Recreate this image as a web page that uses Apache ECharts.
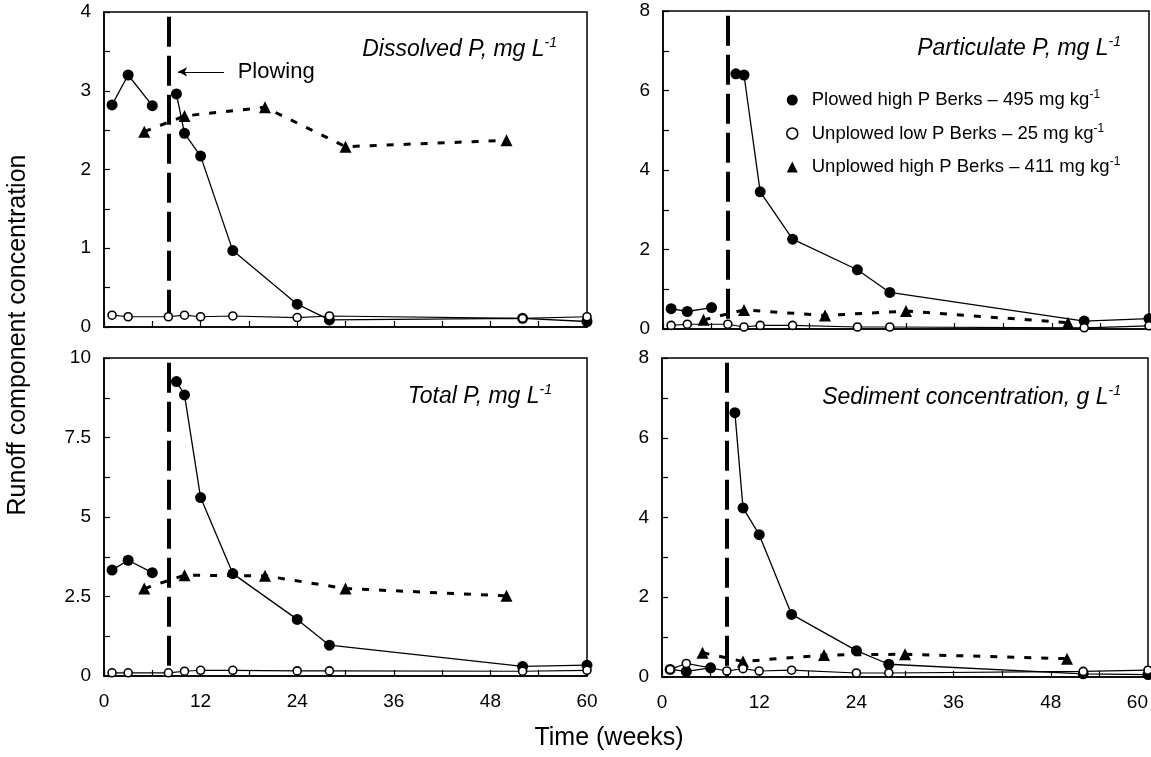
<!DOCTYPE html>
<html>
<head>
<meta charset="utf-8">
<script src="https://cdn.jsdelivr.net/npm/echarts@6/dist/echarts.min.js"></script>
<style>
html,body{margin:0;padding:0;background:#fff;}
#chart{width:1151px;height:757px;}
</style>
</head>
<body>
<div id="chart"></div>
<script>
// ---- data ----
const plowedWeeks = [1, 3, 6, 9, 10, 12, 16, 24, 28, 52, 60];
const lowWeeks    = [1, 3, 8, 10, 12, 16, 24, 28, 52, 60];
const highWeeks   = [5, 10, 20, 30, 50];
const plowWeek = 8;

const dissolvedPlowed = [2.82, 3.20, 2.81, 2.96, 2.46, 2.17, 0.97, 0.29, 0.09, 0.11, 0.07];
const dissolvedLow    = [0.15, 0.13, 0.13, 0.15, 0.13, 0.14, 0.12, 0.14, 0.11, 0.13];
const dissolvedHigh   = [2.48, 2.68, 2.79, 2.29, 2.37];

const particulatePlowed = [0.51, 0.44, 0.54, 6.42, 6.39, 3.45, 2.26, 1.49, 0.92, 0.20, 0.26];
const particulateLow    = [0.09, 0.12, 0.12, 0.05, 0.09, 0.09, 0.05, 0.05, 0.03, 0.08];
const particulateHigh   = [0.23, 0.48, 0.34, 0.45, 0.16];

const totalPlowed = [3.33, 3.64, 3.25, 9.26, 8.84, 5.61, 3.22, 1.78, 0.97, 0.30, 0.34];
const totalLow    = [0.10, 0.10, 0.10, 0.15, 0.18, 0.18, 0.16, 0.16, 0.15, 0.18];
const totalHigh   = [2.75, 3.17, 3.15, 2.75, 2.52];

const sedimentPlowed = [0.19, 0.14, 0.23, 6.63, 4.24, 3.57, 1.57, 0.66, 0.32, 0.08, 0.06];
const sedimentLow    = [0.19, 0.34, 0.15, 0.21, 0.15, 0.17, 0.10, 0.10, 0.14, 0.17];
const sedimentHigh   = [0.61, 0.39, 0.55, 0.57, 0.46];

const seriesNames = [
  'Plowed high P Berks \u2013 495 mg kg',
  'Unplowed low P Berks \u2013 25 mg kg',
  'Unplowed high P Berks \u2013 411 mg kg'
];
const panelTitles = ['Dissolved P, mg L', 'Particulate P, mg L', 'Total P, mg L', 'Sediment concentration, g L'];
const xTicks = [0, 12, 24, 36, 48, 60];
const yMax = [4, 8, 10, 8];
const yLabelStep = [1, 2, 2.5, 2];
const yTickStep = [0.5, 1, 1.25, 1];
const plowingLabel = 'Plowing';
const xTitle = 'Time (weeks)';
const yTitle = 'Runoff component concentration';

// ---- layout ----
const FONT = '"Liberation Sans", Arial, sans-serif';
const grids = [
  {left: 104, top: 12, width: 483, height: 315},
  {left: 663, top: 11, width: 486, height: 318},
  {left: 104, top: 358, width: 483, height: 318},
  {left: 662, top: 358, width: 486, height: 319}
];
const panelData = [
  [dissolvedPlowed, dissolvedLow, dissolvedHigh],
  [particulatePlowed, particulateLow, particulateHigh],
  [totalPlowed, totalLow, totalHigh],
  [sedimentPlowed, sedimentLow, sedimentHigh]
];
function zip(xs, ys) { return xs.map((x, i) => [x, ys[i]]); }
// break the plowed line at the plowing date (before / after)
function zipBroken(xs, ys, brk) {
  const out = [];
  xs.forEach((x, i) => {
    if (i > 0 && xs[i - 1] < brk && x > brk) out.push('-');
    out.push([x, ys[i]]);
  });
  return out;
}
function isMult(v, s) { const r = v / s; return Math.abs(r - Math.round(r)) < 1e-6; }

const xAxes = [], yAxes = [], series = [], titles = [];
grids.forEach((g, i) => {
  g.show = true; g.borderColor = '#000'; g.borderWidth = 1.5; g.backgroundColor = 'transparent';
  g.containLabel = false; g.outerBoundsMode = 'none';
  xAxes.push({
    type: 'value', gridIndex: i, min: 0, max: 60, interval: 6,
    axisLine: {show: true, onZero: false, lineStyle: {color: '#000', width: 1.5}},
    axisTick: {show: true, inside: true, length: 6, lineStyle: {color: '#000', width: 1.2}},
    splitLine: {show: false},
    axisLabel: {
      show: i >= 2, margin: 16, color: '#000', fontSize: 19, fontFamily: FONT,
      hideOverlap: false, alignMaxLabel: i === 3 ? 'right' : 'center',
      formatter: v => xTicks.indexOf(v) >= 0 ? String(v) : ''
    }
  });
  yAxes.push({
    type: 'value', gridIndex: i, min: 0, max: yMax[i], interval: yTickStep[i],
    axisLine: {show: true, lineStyle: {color: '#000', width: 1.5}},
    axisTick: {show: true, inside: true, length: 6, lineStyle: {color: '#000', width: 1.2}},
    splitLine: {show: false},
    axisLabel: {
      margin: 13, color: '#000', fontSize: 19, fontFamily: FONT,
      formatter: v => isMult(v, yLabelStep[i]) ? String(v) : ''
    }
  });
  const [pl, lo, hi] = panelData[i];
  // plowing marker: dashed vertical line drawn from the top down
  const mlData = [
    [{xAxis: plowWeek, yAxis: yMax[i] * 0.985, symbol: 'none'}, {xAxis: plowWeek, yAxis: 0, symbol: 'none'}]
  ];
  const s0 = {
    name: seriesNames[0], type: 'line', xAxisIndex: i, yAxisIndex: i,
    data: zipBroken(plowedWeeks, pl, plowWeek), connectNulls: false,
    symbol: 'circle', symbolSize: 11, clip: false,
    itemStyle: {color: '#000'}, lineStyle: {color: '#000', width: 1.3}, z: 3,
    markLine: {
      silent: true, animation: false, symbol: ['none', 'none'],
      label: {show: false},
      lineStyle: {color: '#000', width: 4, type: [30, 9]},
      data: mlData
    }
  };
  if (i === 0) {
    s0.markLine.data.push([
      {coord: [14.9, 3.24], symbol: 'none', lineStyle: {width: 1, type: 'solid', color: '#000'}},
      {coord: [9.2, 3.24], symbol: 'arrow', symbolSize: [7, 9]}
    ]);
    s0.markPoint = {
      silent: true, animation: false, symbol: 'circle', symbolSize: 0,
      data: [{coord: [16.6, 3.24]}],
      label: {show: true, position: 'right', distance: 0, formatter: plowingLabel,
              color: '#000', fontSize: 22, fontFamily: FONT}
    };
  }
  series.push(s0);
  series.push({
    name: seriesNames[2], type: 'line', xAxisIndex: i, yAxisIndex: i,
    data: zip(highWeeks, hi), symbol: 'triangle', symbolSize: 12, clip: false,
    itemStyle: {color: '#000'}, lineStyle: {color: '#000', width: 3, type: [7, 10]}, z: 4
  });
  series.push({
    name: seriesNames[1], type: 'line', xAxisIndex: i, yAxisIndex: i,
    data: zip(lowWeeks, lo), symbol: 'circle', symbolSize: 8, clip: false,
    itemStyle: {color: '#fff', borderColor: '#000', borderWidth: 1.6},
    lineStyle: {color: '#000', width: 1.2}, z: 5
  });
});

const titleRight = [594, 30, 599, 30];
const titleTop = [36, 35, 383, 384];
panelTitles.forEach((t, i) => {
  titles.push({
    text: '{a|' + t + '}{s|-1}', right: titleRight[i], top: titleTop[i], padding: 0,
    textStyle: {
      fontWeight: 'normal',
      rich: {
        a: {fontSize: 23, fontStyle: 'italic', fontWeight: 'normal', fontFamily: FONT, color: '#000', lineHeight: 28},
        s: {fontSize: 14, fontStyle: 'italic', fontWeight: 'normal', fontFamily: FONT, color: '#000', lineHeight: 14, verticalAlign: 'top'}
      }
    }
  });
});

const option = {
  animation: false,
  backgroundColor: '#fff',
  title: titles,
  grid: grids,
  xAxis: xAxes,
  yAxis: yAxes,
  legend: {
    show: true, orient: 'vertical', left: 786, top: 89, itemGap: 13, padding: 0,
    itemWidth: 11, itemHeight: 11, selectedMode: false,
    data: [
      {name: seriesNames[0], icon: 'circle', itemStyle: {color: '#000', borderWidth: 0}},
      {name: seriesNames[1], icon: 'circle', itemStyle: {color: '#fff', borderColor: '#000', borderWidth: 1.5}},
      {name: seriesNames[2], icon: 'triangle', itemStyle: {color: '#000', borderWidth: 0}}
    ],
    formatter: n => '{t|' + n + '}{s|-1}',
    textStyle: {
      rich: {
        t: {fontSize: 18.5, fontFamily: FONT, color: '#000', lineHeight: 22, padding: [0, 0, 0, 9]},
        s: {fontSize: 12, fontFamily: FONT, color: '#000', lineHeight: 12, verticalAlign: 'top'}
      }
    }
  },
  graphic: [
    {type: 'text', x: 609, y: 738,
     style: {text: xTitle, fill: '#000', font: '25px ' + FONT, align: 'center', verticalAlign: 'middle'}},
    {type: 'text', x: 6, y: 335, rotation: Math.PI / 2,
     style: {text: yTitle, fill: '#000', font: '25px ' + FONT, align: 'center', verticalAlign: 'top'}}
  ],
  series: series
};
const chart = echarts.init(document.getElementById('chart'), null, {renderer: 'canvas'});
chart.setOption(option);
</script>
</body>
</html>
